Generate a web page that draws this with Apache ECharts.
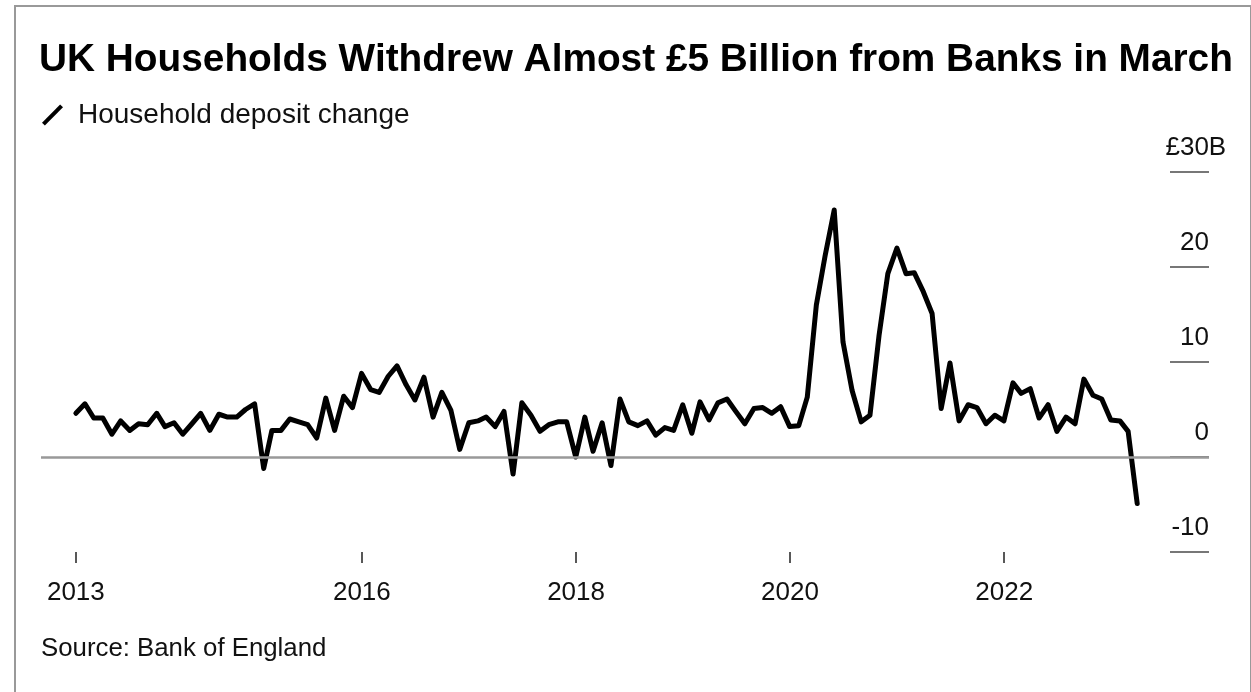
<!DOCTYPE html>
<html>
<head>
<meta charset="utf-8">
<script src="https://cdn.jsdelivr.net/npm/echarts@6/dist/echarts.min.js"></script>
<style>
  html, body { margin: 0; padding: 0; background: #fff; }
  #chart { width: 1251px; height: 692px; }
</style>
</head>
<body>
<div id="chart"></div>
<script>
// monthly household deposit change, £ billions, Apr 2013 .. Mar 2023
const firstMonth = [2013, 4];
const deposits = [
  4.6, 5.6, 4.1, 4.1, 2.4, 3.8, 2.8, 3.5, 3.4, 4.6, 3.2, 3.6,
  2.4, 3.5, 4.6, 2.8, 4.5, 4.2, 4.2, 5.0, 5.6, -1.2, 2.8, 2.8,
  4.0, 3.7, 3.4, 2.0, 6.2, 2.8, 6.4, 5.2, 8.8, 7.1, 6.8, 8.5,
  9.6, 7.6, 6.0, 8.4, 4.2, 6.8, 4.9, 0.8, 3.6, 3.8, 4.2, 3.2,
  4.8, -1.8, 5.7, 4.4, 2.7, 3.4, 3.7, 3.7, 0.0, 4.2, 0.6, 3.6,
  -0.9, 6.1, 3.7, 3.3, 3.8, 2.3, 3.1, 2.8, 5.5, 2.5, 5.8, 3.9,
  5.7, 6.1, 4.8, 3.5, 5.1, 5.2, 4.6, 5.3, 3.2, 3.3, 6.3, 16.0,
  21.2, 26.0, 12.1, 7.0, 3.7, 4.4, 12.8, 19.3, 22.0, 19.3, 19.4, 17.4,
  15.1, 5.1, 9.9, 3.8, 5.5, 5.2, 3.5, 4.4, 3.8, 7.8, 6.7, 7.2,
  4.1, 5.5, 2.7, 4.2, 3.5, 8.2, 6.5, 6.1, 3.9, 3.8, 2.7, -4.9
];
const xTickDates = [[2013, 4, 30], [2016, 1, 1], [2018, 1, 1], [2020, 1, 1], [2022, 1, 1]];
const xTickLabels = ['2013', '2016', '2018', '2020', '2022'];
const yTicks = [-10, 0, 10, 20, 30];

const ts = (y, m, d) => Date.UTC(y, m - 1, d);
// month-end timestamp for each point
const months = deposits.map((v, i) => Date.UTC(firstMonth[0], firstMonth[1] - 1 + i + 1, 0));
const xTickTimes = xTickDates.map(d => ts(d[0], d[1], d[2]));

const font = "'Liberation Sans', Arial, sans-serif";

const myChart = echarts.init(document.getElementById('chart'));
myChart.setOption({
  animation: false,
  backgroundColor: '#fff',
  textStyle: { fontFamily: font },
  title: {
    text: 'UK Households Withdrew Almost £5 Billion from Banks in March',
    left: 39,
    top: 41,
    padding: 0,
    textStyle: { fontFamily: font, fontSize: 38.8, fontWeight: 'bold', color: '#000' }
  },
  legend: {
    left: 42,
    top: 101,
    padding: 0,
    icon: 'path://M0,19 L19,0 L22,3 L3,22 Z',
    itemWidth: 25,
    itemHeight: 21,
    textStyle: { fontFamily: font, fontSize: 28, color: '#111', padding: [0, 0, 0, 8] },
    data: ['Household deposit change']
  },
  grid: { left: 41, right: 42, top: 172, bottom: 140 },
  xAxis: {
    type: 'value',
    min: ts(2013, 1, 1),
    max: ts(2023, 12, 1),
    axisLine: { show: false, onZero: false },
    splitLine: { show: false },
    axisTick: {
      show: true,
      customValues: xTickTimes,
      length: 11,
      lineStyle: { color: '#222', width: 1.5 }
    },
    axisLabel: {
      customValues: xTickTimes,
      margin: 28,
      fontSize: 26,
      color: '#111',
      fontFamily: font,
      formatter: v => xTickLabels[xTickTimes.indexOf(v)]
    }
  },
  yAxis: {
    type: 'value',
    position: 'right',
    min: -10,
    max: 30,
    interval: 10,
    axisLine: { show: false },
    splitLine: { show: false },
    axisTick: {
      show: true,
      inside: true,
      length: 39,
      lineStyle: { color: '#777', width: 2 }
    },
    axisLabel: {
      inside: false,
      align: 'right',
      verticalAlign: 'bottom',
      margin: 17,
      color: '#111',
      formatter: v => v === yTicks[yTicks.length - 1] ? '{n|£' + v + '}{u|B}' : '{n|' + v + '}{s| }',
      rich: {
        n: { fontSize: 26, fontFamily: font, color: '#111', padding: [0, 0, 11, 0] },
        u: { fontSize: 26, fontFamily: font, color: '#111', width: 17, padding: [0, 0, 11, 0] },
        s: { fontSize: 26, fontFamily: font, width: 17, padding: [0, 0, 11, 0] }
      }
    }
  },
  series: [
    {
      name: 'zero',
      type: 'line',
      data: [],
      z: 1,
      silent: true,
      markLine: {
        silent: true,
        symbol: 'none',
        label: { show: false },
        lineStyle: { color: '#999', width: 2.5, type: 'solid' },
        data: [{ yAxis: 0 }]
      }
    },
    {
      name: 'Household deposit change',
      type: 'line',
      z: 3,
      showSymbol: false,
      itemStyle: { color: '#000' },
      lineStyle: { color: '#000', width: 5, join: 'round', cap: 'round' },
      data: months.map((m, i) => [m, deposits[i]])
    }
  ],
  graphic: [
    {
      type: 'rect',
      silent: true,
      shape: { x: 15, y: 6, width: 1236, height: 700 },
      style: { fill: null, stroke: '#999', lineWidth: 2 }
    },
    {
      type: 'text',
      left: 41,
      top: 636,
      style: { text: 'Source: Bank of England', fontSize: 25.8, fontFamily: font, fill: '#111' }
    }
  ]
});
</script>
</body>
</html>
